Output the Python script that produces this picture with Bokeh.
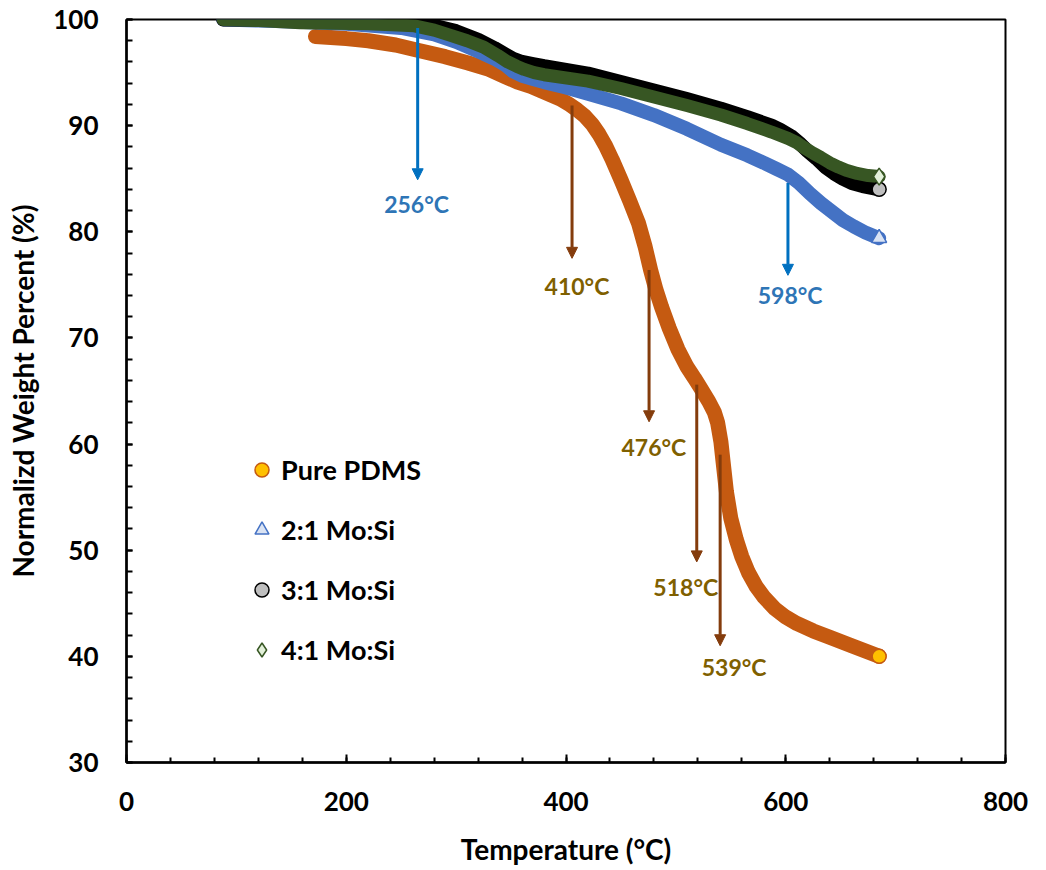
from bokeh.plotting import figure
from bokeh.models import (Arrow, NormalHead, Legend, LegendItem, SingleIntervalTicker,
                          Range1d, ColumnDataSource)
from bokeh.embed import file_html
from bokeh.resources import INLINE
from bokeh.core.properties import value

# ---------------- data ----------------
pdms_t = [172, 200, 220, 245, 265, 290, 311, 330, 345, 356, 368, 377, 386, 395, 403, 410,
          417, 424, 430, 436, 442, 450, 458, 466, 472, 477, 482, 487, 494, 502, 510, 517,
          523, 530, 535, 538, 541, 543, 546, 550, 555, 560, 566, 573, 580, 590, 600, 610,
          625, 640, 660, 685]
pdms_w = [98.4, 98.2, 98.0, 97.6, 97.1, 96.5, 95.9, 95.3, 94.6, 94.1, 93.7, 93.3, 92.9,
          92.5, 92.0, 91.5, 90.9, 90.1, 89.2, 88.1, 86.8, 84.9, 82.9, 80.8, 78.6, 76.4,
          74.5, 72.9, 70.9, 68.9, 67.3, 66.2, 65.2, 64.0, 63.0, 62.0, 60.2, 58.3, 55.5,
          53.0, 51.0, 49.4, 47.9, 46.6, 45.6, 44.5, 43.7, 43.1, 42.4, 41.8, 41.0, 40.0]

mo2_t = [88, 120, 150, 200, 250, 280, 300, 320, 335, 345, 352, 360, 370, 380, 400, 420,
         450, 480, 510, 541, 565, 580, 592, 602, 612, 622, 632, 642, 652, 662, 673, 685]
mo2_w = [100.0, 99.9, 99.8, 99.6, 99.2, 98.6, 97.9, 97.0, 96.3, 95.7, 95.1, 94.7, 94.4,
         94.1, 93.6, 93.0, 92.1, 91.0, 89.7, 88.2, 87.2, 86.5, 85.9, 85.4, 84.6, 83.6,
         82.7, 81.9, 81.1, 80.5, 79.9, 79.4]

mo3_t = [88, 150, 200, 250, 280, 300, 320, 335, 345, 352, 360, 370, 380, 420, 450, 480,
         510, 541, 565, 587, 595, 605, 612, 620, 628, 636, 644, 652, 660, 670, 685]
mo3_w = [100.0, 100.0, 99.9, 99.7, 99.4, 98.9, 98.1, 97.3, 96.7, 96.3, 96.0, 95.8, 95.6,
         94.9, 94.1, 93.3, 92.5, 91.6, 90.8, 90.0, 89.6, 89.0, 88.4, 87.6, 86.9, 86.1,
         85.5, 85.0, 84.6, 84.3, 84.0]

mo4_t = [88, 120, 158, 220, 262, 280, 295, 310, 325, 338, 347, 355, 362, 371, 380, 420,
         450, 480, 510, 541, 565, 587, 602, 610, 617, 625, 632, 640, 648, 655, 665, 675, 685]
mo4_w = [100.0, 99.9, 99.7, 99.6, 99.4, 99.0, 98.5, 98.0, 97.4, 96.6, 96.0, 95.6, 95.3,
         95.0, 94.8, 94.2, 93.5, 92.7, 91.9, 91.0, 90.2, 89.4, 88.8, 88.4, 87.9, 87.4,
         87.0, 86.5, 86.1, 85.8, 85.5, 85.3, 85.2]

series_names = ["Pure PDMS", "2:1 Mo:Si", "3:1 Mo:Si", "4:1 Mo:Si"]

# annotation arrows (temperature, top, tip) and their labels
arrow_t = [265, 602, 405.5, 475.6, 519, 540.3]
arrow_top = [99.2, 84.6, 91.9, 76.4, 65.6, 59.0]
arrow_tip = [84.9, 75.9, 77.5, 62.1, 48.9, 41.0]
label_text = ["256°C", "598°C", "410°C", "476°C", "518°C", "539°C"]
label_t = [264, 604, 410, 480, 509, 553]
label_w = [82.6, 74.0, 74.9, 59.7, 46.5, 39.0]

# ---------------- styles ----------------
BLUE_ARROW = "#0070C0"
BROWN_ARROW = "#843C0C"
BLUE_TEXT = "#2E75B6"
BROWN_TEXT = "#7F6000"
FONT = "Lato"

p = figure(width=1040, height=868, output_backend="svg", toolbar_location=None,
           x_range=Range1d(0, 800), y_range=Range1d(30, 100),
           min_border_left=126, min_border_right=35, min_border_top=19,
           min_border_bottom=104)
p.background_fill_color = "white"
p.border_fill_color = "white"
p.outline_line_color = "black"
p.outline_line_width = 2
p.xgrid.visible = False
p.ygrid.visible = False

p.xaxis.ticker = SingleIntervalTicker(interval=200, num_minor_ticks=5)
p.yaxis.ticker = SingleIntervalTicker(interval=10, num_minor_ticks=5)
for ax in (p.xaxis[0], p.yaxis[0]):
    ax.axis_line_width = 2.5
    ax.axis_line_color = "black"
    ax.major_tick_in = 8
    ax.major_tick_out = 0
    ax.minor_tick_in = 5
    ax.minor_tick_out = 0
    ax.major_tick_line_width = 2
    ax.minor_tick_line_width = 2
    ax.major_tick_line_color = "black"
    ax.minor_tick_line_color = "black"
    ax.major_label_text_font = FONT
    ax.major_label_text_font_style = "bold"
    ax.major_label_text_font_size = "26px"
    ax.major_label_text_color = "black"
    ax.axis_label_text_font = FONT
    ax.axis_label_text_font_style = "bold"
    ax.axis_label_text_font_size = "28px"
    ax.axis_label_text_color = "black"

p.yaxis.minor_tick_in = 6
p.yaxis.major_tick_in = 6
p.xaxis.axis_label = "Temperature (°C)"
p.yaxis.axis_label = "Normalizd Weight Percent (%)"
p.xaxis.major_label_standoff = 29
p.yaxis.major_label_standoff = 28
p.xaxis.axis_label_standoff = 18
p.yaxis.axis_label_standoff = 10

# ---------------- curves ----------------
curves = [
    (pdms_t, pdms_w, "#C55A11", 15),
    (mo2_t, mo2_w, "#4472C4", 14),
    (mo3_t, mo3_w, "#000000", 14),
    (mo4_t, mo4_w, "#375623", 13),
]
for t, w, c, lw in curves:
    p.line(t, w, line_color=c, line_width=lw, line_cap="round", line_join="round")

# end markers
end_r = []
end_r.append(p.scatter([pdms_t[-1]], [pdms_w[-1]], marker="circle", size=14,
                       fill_color="#FFC000", line_color="#C55A11", line_width=1.5))
end_r.append(p.scatter([mo2_t[-1]], [mo2_w[-1]], marker="triangle", size=15,
                       fill_color="#DAE3F3", line_color="#4472C4", line_width=1.5))
end_r.append(p.scatter([mo3_t[-1]], [mo3_w[-1]], marker="circle", size=14,
                       fill_color="#BFBFBF", line_color="#000000", line_width=1.5))
end_r.append(p.scatter([mo4_t[-1]], [mo4_w[-1]], marker="diamond", size=17,
                       fill_color="#E2F0D9", line_color="#375623", line_width=1.5))

# ---------------- arrows & labels ----------------
arrow_colors = [BLUE_ARROW, BLUE_ARROW] + [BROWN_ARROW] * 4
text_colors = [BLUE_TEXT, BLUE_TEXT] + [BROWN_TEXT] * 4
for xt, y0, y1, c in zip(arrow_t, arrow_top, arrow_tip, arrow_colors):
    p.add_layout(Arrow(end=NormalHead(size=11, fill_color=c, line_color=c, line_width=1),
                       x_start=xt, y_start=y0, x_end=xt, y_end=y1,
                       line_color=c, line_width=3))

lab_src = ColumnDataSource(dict(x=label_t, y=label_w, text=label_text, color=text_colors))
p.text(x="x", y="y", text="text", source=lab_src, text_color="color",
       text_font=value(FONT), text_font_style="bold", text_font_size="23px",
       text_align="center", text_baseline="middle")

# ---------------- legend ----------------
legend = Legend(items=[LegendItem(label=n, renderers=[r]) for n, r in zip(series_names, end_r)],
                location=(118, 95), glyph_width=35, glyph_height=35, spacing=25,
                padding=0, margin=0, border_line_color=None, background_fill_alpha=0,
                label_standoff=2, label_text_font=FONT, label_text_font_style="bold",
                label_text_font_size="27px", label_text_color="black")
p.add_layout(legend)

open("out.html", "w").write(file_html(p, INLINE))
